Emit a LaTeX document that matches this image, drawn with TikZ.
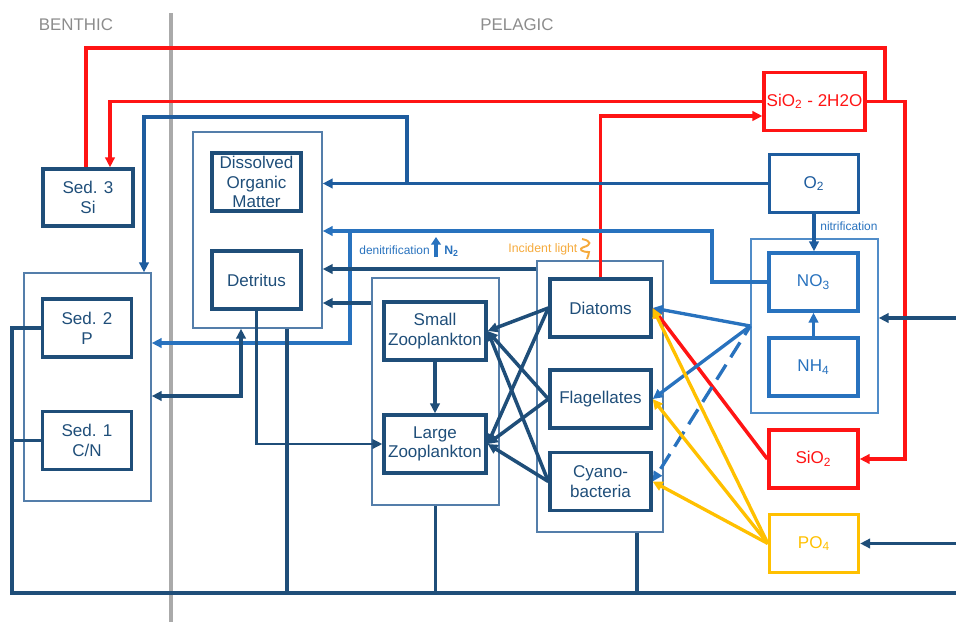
\documentclass[tikz,border=0pt]{standalone}
\usepackage{fontspec}
\setmainfont{Liberation Sans}
\usepackage{tikz}
\usetikzlibrary{arrows.meta}

\definecolor{navy}{RGB}{31,78,121}
\definecolor{oxblue}{RGB}{30,92,158}
\definecolor{nublue}{RGB}{40,114,190}
\definecolor{grpblue}{RGB}{84,126,170}
\definecolor{grpnut}{RGB}{80,140,200}
\definecolor{sired}{RGB}{255,20,20}
\definecolor{pyellow}{RGB}{255,192,0}
\definecolor{lightorange}{RGB}{245,170,60}
\definecolor{labgray}{RGB}{140,140,140}
\definecolor{divgray}{RGB}{170,170,170}

\begin{document}
\begin{tikzpicture}[
    x=0.02cm, y=-0.02cm, % one unit = one pixel of the sketch, y downwards
    font=\fontsize{9.7}{11.2}\selectfont,
    headed/.style = {-{Triangle[length=2mm,width=1.9mm]}},
    twoheaded/.style = {{Triangle[length=2mm,width=1.9mm]}-{Triangle[length=2mm,width=1.9mm]}},
    grpbox/.style = {rectangle, draw=grpblue, line width=0.8pt, inner sep=0pt},
    pool/.style = {rectangle, draw=navy, text=navy, line width=1.9pt, align=center, inner sep=0pt, minimum width=1.78cm, minimum height=1.16cm}
    ]
    \tikzstyle{nut_pool} = [pool, draw=nublue, text=nublue]
    \tikzstyle{si_pool} = [pool, draw=sired, text=sired]
    \tikzstyle{p_pool} = [pool, draw=pyellow, text=pyellow]
    \tikzstyle{navy_line} = [draw=navy, line width=2pt]
    \tikzstyle{navy_arrow} = [navy_line, headed]
    \tikzstyle{nu_arrow} = [draw=nublue, line width=1.9pt, headed]
    \tikzstyle{ox_arrow} = [draw=oxblue, line width=1.9pt, headed]
    \tikzstyle{red_line} = [draw=sired, line width=2pt]
    \tikzstyle{red_arrow} = [red_line, headed]
    \tikzstyle{yel_arrow} = [draw=pyellow, line width=1.9pt, headed]
    \tikzstyle{label_txt} = [inner sep=0pt, anchor=west, font=\fontsize{6.8}{8}\selectfont]

    \useasboundingbox (0,0) rectangle (956,622);

    \node[text=labgray, font=\fontsize{9.6}{11}\selectfont] (benthic) at (76,25) {BENTHIC};
    \node[text=labgray, font=\fontsize{9.6}{11}\selectfont] (pelagic) at (517,25) {PELAGIC};
    \draw[draw=divgray, line width=2.2pt] (171,13) -- (171,622);

    \node[grpbox, minimum width=2.54cm, minimum height=4.56cm] (sedgrp) at (87.5,387) {};
    \node[grpbox, minimum width=2.58cm, minimum height=3.92cm] (domgrp) at (257.5,230) {};
    \node[grpbox, minimum width=2.54cm, minimum height=4.54cm] (zoogrp) at (435.5,391.5) {};
    \node[grpbox, minimum width=2.52cm, minimum height=5.42cm] (phygrp) at (600,396.5) {};
    \node[grpbox, draw=grpnut, minimum width=2.54cm, minimum height=3.48cm] (nutgrp) at (814.5,326) {};

    \node[pool, minimum width=1.8cm, minimum height=1.14cm] (sed3) at (88,197.5) {Sed. 3\\Si};
    \node[pool] (sed2) at (87,328) {Sed. 2\\P};
    \node[pool] (sed1) at (87,440.5) {Sed. 1\\C/N};
    \node[pool] (dom) at (256.5,182) {Dissolved\\Organic\\Matter};
    \node[pool] (det) at (256.5,280) {Detritus};
    \node[pool, minimum width=2.04cm] (szoo) at (435,331) {Small\\Zooplankton};
    \node[pool, minimum width=2.04cm] (lzoo) at (435,444) {Large\\Zooplankton};
    \node[pool, minimum width=2.02cm] (diat) at (600.5,308) {Diatoms};
    \node[pool, minimum width=2.02cm] (flag) at (600.5,399) {Flagellates};
    \node[pool, minimum width=2.02cm] (cyano) at (600.5,481.5) {Cyano-\\bacteria};
    \node[pool, draw=oxblue, text=oxblue] (o2) at (814,183.5) {O\textsubscript{2}};
    \node[nut_pool] (no3) at (813.5,282) {NO\textsubscript{3}};
    \node[nut_pool] (nh4) at (813.5,367) {NH\textsubscript{4}};
    \node[si_pool, minimum width=2.02cm] (sio2w) at (814.5,101.5) {SiO\textsubscript{2} - 2H2O};
    \node[si_pool] (sio2) at (813.5,459) {SiO\textsubscript{2}};
    \node[p_pool] (po4) at (814,543.5) {PO\textsubscript{4}};

    \node[label_txt, text=nublue] (denit) at (359,250) {denitrification};
    \node[label_txt, text=nublue, font=\fontsize{7}{8}\selectfont\bfseries] (n2) at (444,251) {N\textsubscript{2}};
    \node[label_txt, text=lightorange, font=\fontsize{7}{8}\selectfont] (light) at (508,249) {Incident light};
    \node[label_txt, text=nublue] (nitr) at (820,226) {nitrification};
    \coordinate (n2foot) at (436,257);
    \coordinate (n2head) at (436,237);
    \draw[draw=nublue, line width=1.8pt, -{Triangle[length=1.5mm,width=1.9mm]}] (n2foot) -- (n2head);
    \draw[draw=lightorange, line width=1.1pt] (582,239) .. controls (592,241) and (591,245) .. (584,247)
        .. controls (578,249) and (581,252) .. (589,252) .. controls (590,254) and (587,256) .. (587,259);

    % silicate
    \coordinate (rtop) at (885,48);
    \coordinate (rside) at (905,459);
    \draw[red_line] ([xshift=-0.04cm]sed3.north) |- (rtop) -- (rtop |- sio2w.east);
    \draw[red_arrow] (sio2w.east) -| (rside) -- (sio2.east);
    \draw[red_arrow] (sio2w.west) -| ([xshift=0.44cm]sed3.north);
    \draw[red_arrow] (diat.north) |- ([yshift=-0.29cm]sio2w.west);
    \draw[red_arrow] (sio2.west) -- (diat.east);

    % oxygen and nitrogen
    \coordinate (oxbr) at (407,183.5);
    \coordinate (oxtop) at (407,117);
    \coordinate (nobend) at (712,231);
    \coordinate (dnbr) at (350,231);
    \draw[ox_arrow] (o2.west) -- (o2.west -| domgrp.east);
    \draw[ox_arrow] (oxbr) -- (oxtop) -| ([xshift=1.13cm]sedgrp.north);
    \draw[ox_arrow] (o2.south) -- (o2.south |- no3.north);
    \draw[nu_arrow] (nh4.north) -- (no3.south);
    \draw[nu_arrow] (no3.west) -| (nobend) -- (nobend -| domgrp.east);
    \draw[nu_arrow] (dnbr) |- ([yshift=0.88cm]sedgrp.east);

    % uptake
    \foreach \p in {diat,flag} \draw[nu_arrow] (nutgrp.west) -- (\p.east);
    \draw[nu_arrow, dash pattern=on 10pt off 5pt, dash phase=4pt] (nutgrp.west) -- (cyano.east);
    \foreach \p in {diat,flag,cyano} \draw[yel_arrow] (po4.west) -- (\p.east);

    % grazing
    \foreach \p in {diat,flag,cyano} {
        \draw[navy_arrow] (\p.west) -- (szoo.east);
        \draw[navy_arrow] (\p.west) -- (lzoo.east);
    }
    \draw[navy_arrow] (szoo) -- (lzoo);

    % mortality, excretion, sedimentation
    \coordinate (phyd) at ([yshift=2.55cm]phygrp.west);
    \coordinate (zood) at ([yshift=1.77cm]zoogrp.west);
    \draw[navy_arrow] (phyd) -- (phyd -| domgrp.east);
    \draw[navy_arrow] (zood) -- (zood -| domgrp.east);
    \draw[navy_line, twoheaded] ([yshift=-0.18cm]sedgrp.east) -| ([xshift=-0.33cm]domgrp.south);
    \draw[draw=navy, line width=1.3pt, headed] (det.south) |- (lzoo.west);

    % remineralisation
    \coordinate (busl) at (12,593);
    \coordinate (busr) at (956,593);
    \coordinate (domout) at ([xshift=0.59cm]domgrp.south);
    \coordinate (phyout) at ([xshift=0.74cm]phygrp.south);
    \coordinate (rin1) at (956,318);
    \coordinate (rin2) at (956,543.5);
    \draw[navy_line] (sed2.west) -| (busl) -- (busr);
    \draw[navy_line] (sed1.west) -- (sed1.west -| busl);
    \foreach \c in {domout,zoogrp.south,phyout} \draw[navy_line] (\c) -- (\c |- busl);
    \draw[navy_arrow] (rin1) -- (rin1 -| nutgrp.east);
    \draw[navy_arrow] (rin2) -- (po4.east);
\end{tikzpicture}
\end{document}
